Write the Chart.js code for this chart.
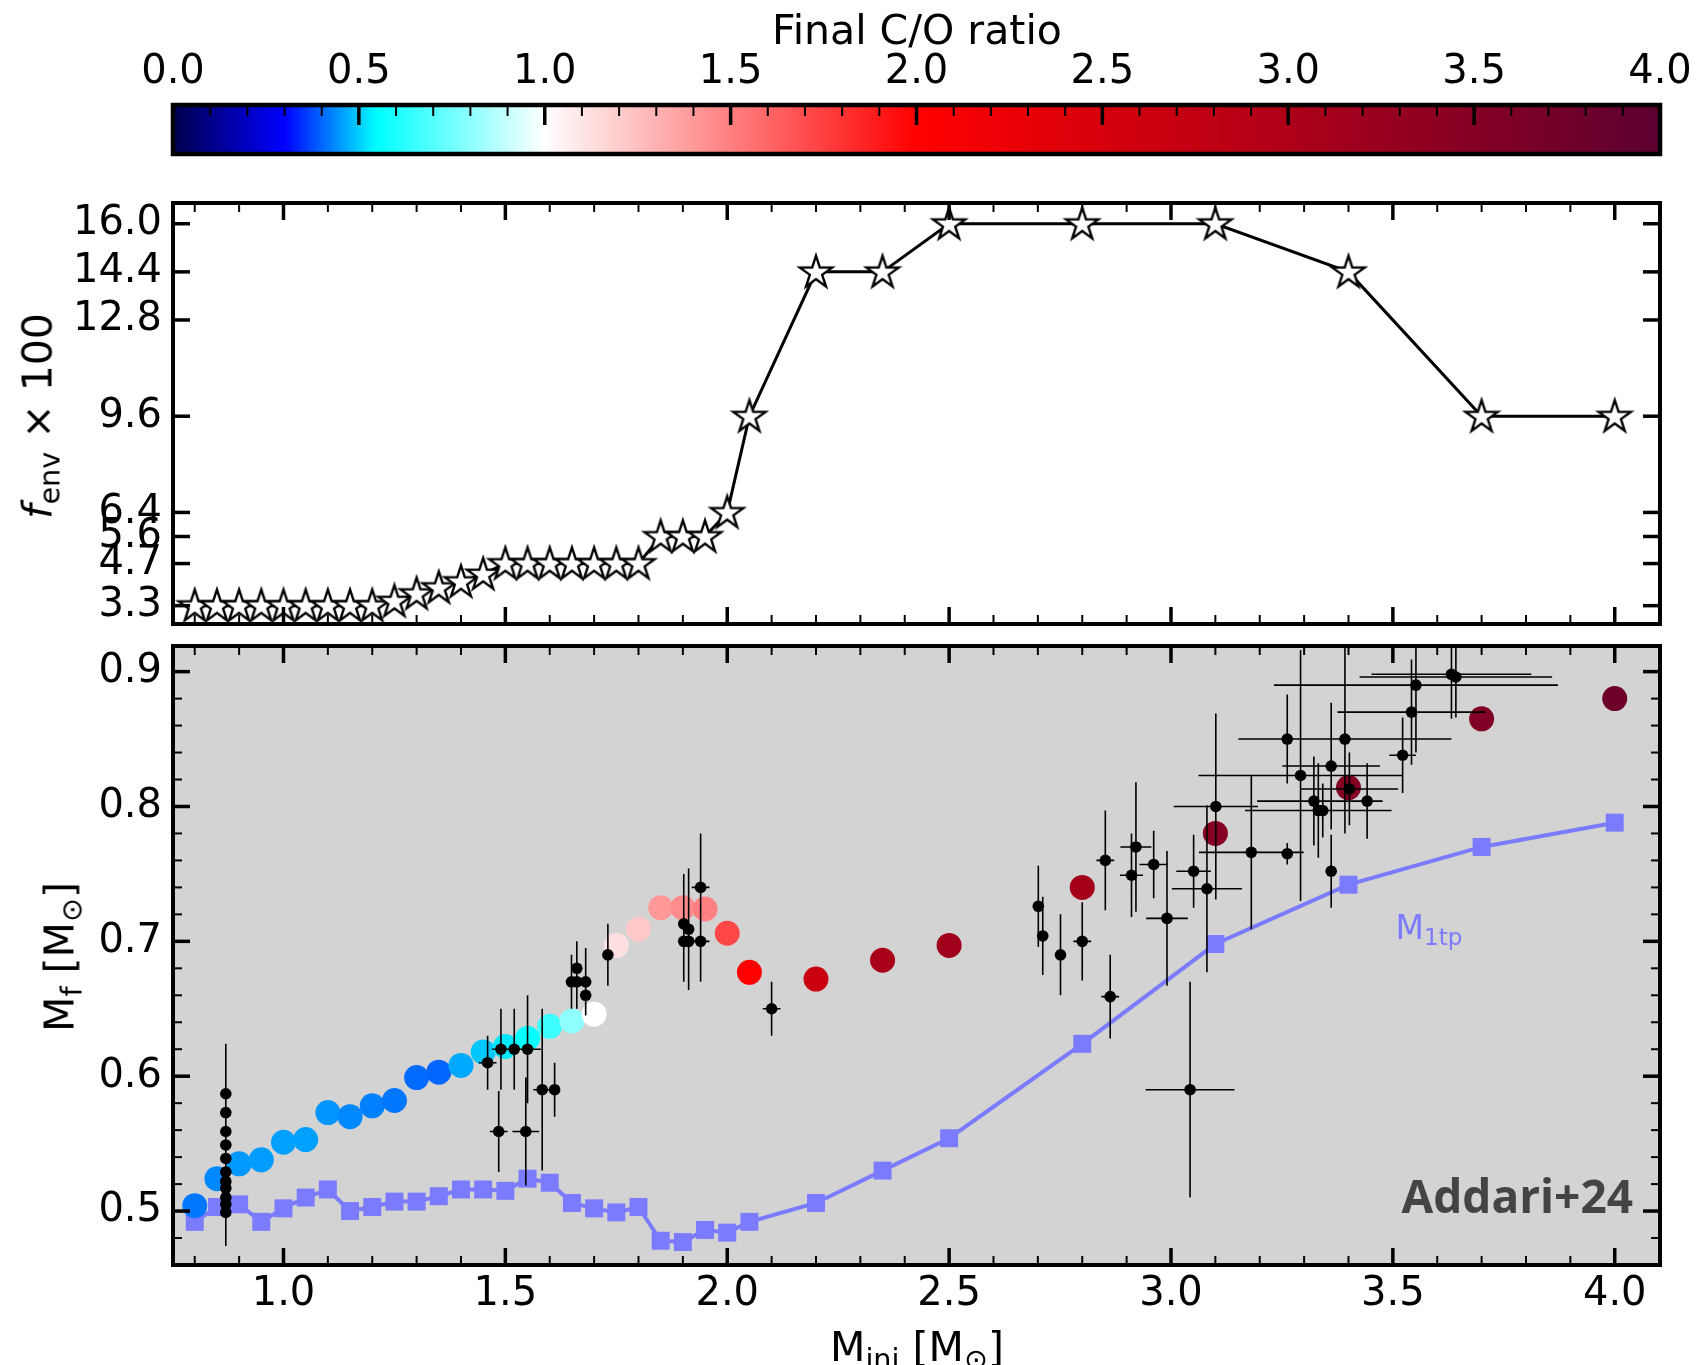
<!DOCTYPE html>
<html><head><meta charset="utf-8">
<script src="https://cdn.jsdelivr.net/npm/chart.js@4.4.1/dist/chart.umd.min.js"></script>
<style>
html,body{margin:0;padding:0;background:#fff;}
#page{position:relative;width:1696px;height:1365px;overflow:hidden;font-family:'DejaVu Sans',sans-serif;color:#000;}
canvas{position:absolute;left:0;}
.lbl{position:absolute;white-space:nowrap;line-height:1;transform:translate(-50%,-50%);}
.rot{transform:translate(-50%,-50%) rotate(-90deg);}
sub{font-size:70%;vertical-align:baseline;position:relative;top:0.28em;}
</style></head>
<body><div id="page">
<canvas id="cb" width="1696" height="170" style="top:0px"></canvas>
<canvas id="top" width="1696" height="450" style="top:190px"></canvas>
<canvas id="bot" width="1696" height="725" style="top:640px"></canvas>
<div class="lbl" style="left:917px;top:30px;font-size:41px">Final C/O ratio</div>
<div class="lbl rot" style="left:38px;top:416px;font-size:41px"><i>f</i><sub>env</sub> × 100</div>
<div class="lbl rot" style="left:60px;top:957px;font-size:41px">M<sub>f</sub> [M<sub>⊙</sub>]</div>
<div class="lbl" style="left:917px;top:1347px;font-size:41px">M<sub>ini</sub> [M<sub>⊙</sub>]</div>
<div class="lbl" style="left:1429px;top:927px;font-size:33px;color:#7b7bff">M<sub>1tp</sub></div>
<div class="lbl" style="left:1633px;top:1195px;transform:translate(-100%,-50%);font-family:'Open Sans',sans-serif;font-weight:700;font-size:46px;color:#444">Addari+24</div>
</div>
<script>
// ---------------- data ----------------
const massModel = [0.80,0.85,0.90,0.95,1.00,1.05,1.10,1.15,1.20,1.25,1.30,1.35,1.40,1.45,1.50,1.55,1.60,1.65,1.70,1.75,1.80,1.85,1.90,1.95,2.00,2.05,2.20,2.35,2.50,2.80,3.10,3.40,3.70,4.00];
const fenv100 = [3.3,3.3,3.3,3.3,3.3,3.3,3.3,3.3,3.3,3.45,3.7,3.9,4.1,4.35,4.7,4.7,4.7,4.7,4.7,4.7,4.7,5.6,5.6,5.6,6.4,9.6,14.4,14.4,16.0,16.0,16.0,14.4,9.6,9.6];
const mFinal = [0.504,0.524,0.535,0.538,0.551,0.553,0.573,0.570,0.578,0.582,0.599,0.603,0.608,0.618,0.622,0.628,0.637,0.641,0.646,0.697,0.709,0.725,0.725,0.724,0.706,0.677,0.672,0.686,0.697,0.740,0.780,0.814,0.865,0.880];
const m1tp = [0.492,0.503,0.505,0.492,0.502,0.510,0.516,0.500,0.503,0.507,0.507,0.511,0.516,0.516,0.515,0.524,0.521,0.506,0.502,0.499,0.503,0.478,0.477,0.486,0.484,0.492,0.506,0.530,0.554,0.624,0.698,0.742,0.770,0.788];
const coFinal = [0.417,0.433,0.45,0.453,0.457,0.457,0.446,0.433,0.425,0.417,0.405,0.40,0.465,0.496,0.527,0.56,0.66,0.80,1.0,1.12,1.21,1.40,1.45,1.50,1.72,2.0,2.65,3.05,3.15,3.1,3.5,3.52,3.55,3.8];

const obsMini = [0.87,0.87,0.87,0.87,0.87,0.87,0.87,0.87,0.87,0.87,0.87,1.46,1.49,1.52,1.55,1.485,1.546,1.583,1.611,1.649,1.661,1.661,1.681,1.681,1.731,1.902,1.913,1.902,1.913,1.94,1.94,2.10,2.701,2.711,2.751,2.80,2.852,2.863,2.911,2.921,2.961,2.991,3.043,3.051,3.081,3.101,3.181,3.262,3.262,3.292,3.322,3.332,3.342,3.361,3.361,3.392,3.402,3.442,3.522,3.542,3.552,3.632,3.642];
const obsMf = [0.587,0.573,0.559,0.549,0.539,0.529,0.522,0.517,0.510,0.505,0.499,0.610,0.620,0.620,0.620,0.559,0.559,0.590,0.590,0.670,0.680,0.670,0.670,0.660,0.690,0.713,0.709,0.700,0.700,0.740,0.700,0.650,0.726,0.704,0.690,0.700,0.760,0.659,0.749,0.770,0.757,0.717,0.590,0.752,0.739,0.800,0.766,0.850,0.765,0.823,0.804,0.797,0.797,0.830,0.752,0.850,0.813,0.804,0.838,0.870,0.890,0.898,0.896];
const obsMiniErr = [0,0,0,0,0,0,0,0,0,0,0,0.02,0.02,0,0.03,0.02,0.03,0.02,0,0,0,0,0,0,0,0,0,0,0,0.02,0.02,0.02,0,0,0,0.02,0.02,0.02,0.026,0.035,0.032,0.047,0.10,0.039,0.079,0.095,0.118,0,0.012,0.23,0.128,0.165,0,0.11,0,0.24,0.11,0.035,0.03,0.167,0.32,0.18,0.217];
const obsMfErr = [0,0,0,0.075,0,0,0,0,0,0,0,0.02,0.03,0.03,0.04,0.03,0.04,0.06,0.02,0.02,0.02,0.02,0.025,0.01,0.023,0.037,0.045,0.03,0.02,0.04,0.03,0.02,0.03,0.029,0.03,0.029,0.037,0.031,0.031,0.048,0.025,0.05,0.08,0.027,0.062,0.069,0.057,0.033,0.008,0.093,0.033,0.035,0.02,0.047,0.027,0.07,0.027,0.028,0.028,0.039,0.05,0.033,0.03];

const fenvTicks = [3.3,4.7,5.6,6.4,9.6,12.8,14.4,16.0];
const mfTicks = [0.5,0.6,0.7,0.8,0.9];
const mIniTicks = [1.0,1.5,2.0,2.5,3.0,3.5,4.0];
const coTicks = [0.0,0.5,1.0,1.5,2.0,2.5,3.0,3.5,4.0];

// colour map of the C/O colour bar
const cmapVals = [0, 0.3, 0.55, 1.0, 2.0, 4.0];
const cmapCols = [[0,0,76],[0,0,255],[0,255,255],[255,255,255],[255,0,0],[92,0,48]];

// ---------------- helpers ----------------
function cmap(v){
  if (v <= cmapVals[0]) return rgb(cmapCols[0]);
  for (let i=1;i<cmapVals.length;i++){
    if (v <= cmapVals[i]){
      const t=(v-cmapVals[i-1])/(cmapVals[i]-cmapVals[i-1]);
      const a=cmapCols[i-1], b=cmapCols[i];
      return rgb([0,1,2].map(k=>Math.round(a[k]+(b[k]-a[k])*t)));
    }
  }
  return rgb(cmapCols[cmapCols.length-1]);
}
function rgb(c){return 'rgb('+c[0]+','+c[1]+','+c[2]+')';}
function range(a,b,s){const r=[];for(let v=a;v<=b+1e-9;v+=s){r.push(Math.round(v*1000)/1000);}return r;}
function minorOnly(list, majors){return list.filter(v=>!majors.some(m=>Math.abs(m-v)<1e-6));}

const FONT = "'DejaVu Sans', sans-serif";
Chart.defaults.font.family = FONT;
Chart.defaults.color = '#000';

// star marker (matplotlib-like five-pointed star)
function makeStar(r){
  const c=document.createElement('canvas'); const s=Math.ceil(2*r+6); c.width=s; c.height=s;
  const g=c.getContext('2d'); const cx=s/2, cy=s/2+ r*0.05; const ri=r*0.381966;
  g.beginPath();
  for(let i=0;i<10;i++){const ang=-Math.PI/2+i*Math.PI/5; const rr=i%2?ri:r; const x=cx+rr*Math.cos(ang), y=cy+rr*Math.sin(ang); i?g.lineTo(x,y):g.moveTo(x,y);}
  g.closePath(); g.fillStyle='#fff'; g.fill(); g.lineWidth=2.4; g.lineJoin='miter'; g.strokeStyle='#000'; g.stroke();
  return c;
}
const starImg = makeStar(17);

// plugin: background, inward ticks on the box, frame
const boxPlugin = {
  id: 'boxTicks',
  beforeDatasetsDraw(chart, args, o){
    const ctx=chart.ctx, a=chart.chartArea;
    ctx.save();
    if (o.bg === 'cmap'){
      const sx=chart.scales.x;
      const g=ctx.createLinearGradient(sx.getPixelForValue(0),0,sx.getPixelForValue(4),0);
      for(let v=0; v<=4.0001; v+=0.05){ g.addColorStop(Math.min(1,v/4), cmap(v)); }
      ctx.fillStyle=g; ctx.fillRect(a.left,a.top,a.width,a.height);
    } else if (o.bg){
      ctx.fillStyle=o.bg; ctx.fillRect(a.left,a.top,a.width,a.height);
    }
    ctx.restore();
  },
  afterDatasetsDraw(chart, args, o){
    const ctx=chart.ctx, a=chart.chartArea;
    const sx=chart.scales.x, sy=chart.scales.y;
    ctx.save(); ctx.strokeStyle='#000'; ctx.lineCap='butt';
    const seg=(x1,y1,x2,y2)=>{ctx.beginPath();ctx.moveTo(x1,y1);ctx.lineTo(x2,y2);ctx.stroke();};
    const dX=(vals,len,w)=>{ctx.lineWidth=w; (vals||[]).forEach(v=>{const p=sx.getPixelForValue(v); if(p<a.left+1||p>a.right-1) return; if(o.xTop) seg(p,a.top,p,a.top+len); if(o.xBottom) seg(p,a.bottom,p,a.bottom-len);});};
    const dY=(vals,len,w)=>{ctx.lineWidth=w; (vals||[]).forEach(v=>{const p=sy.getPixelForValue(v); if(p<a.top+1||p>a.bottom-1) return; seg(a.left,p,a.left+len,p); seg(a.right,p,a.right-len,p);});};
    dX(o.xMajor,o.majLen,o.majW); dX(o.xMinor,o.minLen,o.minW);
    if (o.yMajor){ dY(o.yMajor,o.majLen,o.majW); dY(o.yMinor,o.minLen,o.minW); }
    ctx.lineWidth=o.frame; ctx.strokeRect(a.left,a.top,a.width,a.height);
    ctx.restore();
  }
};

const xMinor = minorOnly(range(0.8,4.1,0.1), mIniTicks);
const tickFont = {family: FONT, size: 40};

// ---------------- colour bar ----------------
new Chart(document.getElementById('cb'), {
  type:'scatter',
  data:{datasets:[{data:[]}]},
  plugins:[boxPlugin],
  options:{
    responsive:false, animation:false, devicePixelRatio:1,
    layout:{autoPadding:false, padding:{left:173,right:36,top:0,bottom:16}},
    plugins:{legend:{display:false},tooltip:{enabled:false},
      boxTicks:{bg:'cmap', xTop:true, xBottom:false, xMajor:coTicks, xMinor:minorOnly(range(0,4,0.1),coTicks), majLen:20, minLen:11, majW:3.5, minW:2, frame:4.5}},
    scales:{
      x:{type:'linear', position:'top', min:0, max:4,
        afterBuildTicks:s=>{s.ticks=coTicks.map(v=>({value:v}));},
        afterFit:s=>{s.height=105; s.paddingLeft=0; s.paddingRight=0;},
        grid:{display:false, drawTicks:false}, border:{display:false},
        ticks:{font:tickFont, padding:8, autoSkip:false, maxRotation:0, callback:v=>v.toFixed(1)}},
      y:{display:false, min:0, max:1}
    }
  }
});

// ---------------- f_env panel ----------------
new Chart(document.getElementById('top'), {
  type:'scatter',
  data:{datasets:[{
    data: massModel.map((m,i)=>({x:m, y:fenv100[i]})),
    showLine:true, borderColor:'#000', borderWidth:3, pointStyle:starImg, pointRadius:16, pointHoverRadius:16
  }]},
  plugins:[boxPlugin],
  options:{
    responsive:false, animation:false, devicePixelRatio:1,
    layout:{autoPadding:false, padding:{left:0,right:36,top:13,bottom:16}},
    plugins:{legend:{display:false},tooltip:{enabled:false},
      boxTicks:{xTop:true, xBottom:true, xMajor:mIniTicks, xMinor:xMinor, yMajor:fenvTicks, yMinor:[], majLen:17, minLen:9, majW:3.5, minW:2, frame:4}},
    scales:{
      x:{type:'linear', display:false, min:0.751, max:4.102},
      y:{type:'linear', min:2.69, max:16.69,
        afterBuildTicks:s=>{s.ticks=fenvTicks.map(v=>({value:v}));},
        afterFit:s=>{s.width=173; s.paddingTop=0; s.paddingBottom=0;},
        grid:{display:false, drawTicks:false}, border:{display:false},
        ticks:{font:tickFont, padding:11, autoSkip:false, callback:v=>v.toFixed(1)}}
    }
  }
});

// ---------------- M_f panel ----------------
const xerrSeg=[], yerrSeg=[];
obsMini.forEach((m,i)=>{
  if (obsMiniErr[i]>0){ xerrSeg.push({x:m-obsMiniErr[i], y:obsMf[i]},{x:m+obsMiniErr[i], y:obsMf[i]},{x:m, y:null}); }
  if (obsMfErr[i]>0){ yerrSeg.push({x:m, y:obsMf[i]-obsMfErr[i]},{x:m, y:obsMf[i]+obsMfErr[i]},{x:m, y:null}); }
});

new Chart(document.getElementById('bot'), {
  type:'scatter',
  data:{datasets:[
    {label:'M1tp', data: massModel.map((m,i)=>({x:m, y:m1tp[i]})), showLine:true, borderColor:'#7b7bff', borderWidth:4,
      pointStyle:'rect', pointRadius:12.7, pointHoverRadius:12.7, pointBackgroundColor:'#7b7bff', pointBorderWidth:0, order:5},
    {label:'models', data: massModel.map((m,i)=>({x:m, y:mFinal[i]})), showLine:false,
      pointRadius:12.5, pointHoverRadius:12.5, pointBorderWidth:0, pointBackgroundColor: coFinal.map(cmap), order:4},
    {label:'xerr', data:xerrSeg, showLine:true, spanGaps:false, borderColor:'#000', borderWidth:1.6, pointRadius:0, pointHoverRadius:0, order:3},
    {label:'yerr', data:yerrSeg, showLine:true, spanGaps:false, borderColor:'#000', borderWidth:1.6, pointRadius:0, pointHoverRadius:0, order:3},
    {label:'obs', data: obsMini.map((m,i)=>({x:m, y:obsMf[i]})), showLine:false, pointRadius:5.8, pointHoverRadius:5.8,
      pointBackgroundColor:'#000', pointBorderWidth:0, order:1}
  ]},
  plugins:[boxPlugin],
  options:{
    responsive:false, animation:false, devicePixelRatio:1,
    layout:{autoPadding:false, padding:{left:0,right:36,top:6,bottom:0}},
    plugins:{legend:{display:false},tooltip:{enabled:false},
      boxTicks:{bg:'#d3d3d3', xTop:true, xBottom:true, xMajor:mIniTicks, xMinor:xMinor, yMajor:mfTicks, yMinor:minorOnly(range(0.46,0.92,0.02),mfTicks), majLen:17, minLen:9, majW:3.5, minW:2, frame:4}},
    scales:{
      x:{type:'linear', min:0.751, max:4.102,
        afterBuildTicks:s=>{s.ticks=mIniTicks.map(v=>({value:v}));},
        afterFit:s=>{s.height=100; s.paddingLeft=0; s.paddingRight=0;},
        grid:{display:false, drawTicks:false}, border:{display:false},
        ticks:{font:tickFont, padding:6, autoSkip:false, maxRotation:0, callback:v=>v.toFixed(1)}},
      y:{type:'linear', min:0.46, max:0.919,
        afterBuildTicks:s=>{s.ticks=mfTicks.map(v=>({value:v}));},
        afterFit:s=>{s.width=173; s.paddingTop=0; s.paddingBottom=0;},
        grid:{display:false, drawTicks:false}, border:{display:false},
        ticks:{font:tickFont, padding:11, autoSkip:false, callback:v=>v.toFixed(1)}}
    }
  }
});
</script>
</body></html>
